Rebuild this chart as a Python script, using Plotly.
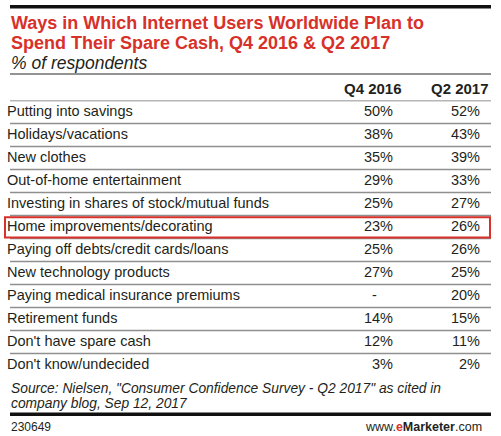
import plotly.graph_objects as go

# ---- data ----
categories = [
    "Putting into savings",
    "Holidays/vacations",
    "New clothes",
    "Out-of-home entertainment",
    "Investing in shares of stock/mutual funds",
    "Home improvements/decorating",
    "Paying off debts/credit cards/loans",
    "New technology products",
    "Paying medical insurance premiums",
    "Retirement funds",
    "Don't have spare cash",
    "Don't know/undecided",
]
q4_2016 = [50, 38, 35, 29, 25, 23, 25, 27, None, 14, 12, 3]
q2_2017 = [52, 43, 39, 33, 27, 26, 26, 25, 20, 15, 11, 2]
column_labels = ["Q4 2016", "Q2 2017"]
highlight = "Home improvements/decorating"

title_lines = [
    "Ways in Which Internet Users Worldwide Plan to",
    "Spend Their Spare Cash, Q4 2016 & Q2 2017",
]
subtitle = "% of respondents"
source_lines = [
    "Source: Nielsen, \"Consumer Confidence Survey - Q2 2017\" as cited in",
    "company blog, Sep 12, 2017",
]
chart_id = "230649"

# ---- styling ----
W, H = 501, 436
RED = "#d7312a"
TXT = "#231f20"
FONT = "Liberation Sans"
col_x = [390, 477]      # right edge of value columns (x-axis units = px)
head_x = [403, 490]     # right edge of header text
left, right = 10, 491
table_top, row_h = 100.5, 23.0
rule_y = [7, 414]       # thick black rules (page px)


def py(v):
    return 1 - v / H


def px(v):
    return v / W


def fmt(v):
    return "-\u2007\u2007" if v is None else f"{v}%"


n = len(categories)
fig = go.Figure()
fig.add_trace(go.Scatter(
    x=[left - 3] * n, y=categories, text=categories, mode="text",
    textposition="middle right", textfont=dict(family=FONT, size=14.5, color=TXT),
    hoverinfo="skip", showlegend=False, cliponaxis=False))
for cx, vals in zip(col_x, [q4_2016, q2_2017]):
    fig.add_trace(go.Scatter(
        x=[cx + 3] * n, y=categories, text=[fmt(v) for v in vals], mode="text",
        textposition="middle left", textfont=dict(family=FONT, size=14.5, color=TXT),
        hoverinfo="skip", showlegend=False, cliponaxis=False))

shapes = []
# row separators
for i in range(n - 1):
    shapes.append(dict(type="line", xref="x", yref="y", x0=left, x1=right,
                       y0=i + 0.5, y1=i + 0.5, line=dict(color="#8f8f8f", width=1.3)))
# header underline
shapes.append(dict(type="line", xref="x", yref="y", x0=left, x1=right,
                   y0=-0.5, y1=-0.5, line=dict(color="#6f6f6f", width=1.5)))
# subtitle underline
shapes.append(dict(type="line", xref="paper", yref="paper", x0=px(left), x1=px(right),
                   y0=py(74), y1=py(74), line=dict(color="#6f6f6f", width=1.5)))
# thick rules as paper shapes
for yy in rule_y:
    shapes.append(dict(type="line", xref="paper", yref="paper", x0=px(left), x1=px(right),
                       y0=py(yy), y1=py(yy), line=dict(color="#111111", width=3)))
# highlight box
hi = categories.index(highlight)
shapes.append(dict(type="rect", xref="x", yref="y", x0=5, x1=490,
                   y0=hi - 0.42, y1=hi + 0.46, line=dict(color=RED, width=2),
                   fillcolor="rgba(0,0,0,0)"))

ann = []
# thick rules also as filled annotation boxes (drawn on the top layer)
for yy in rule_y:
    ann.append(dict(text=" ", x=px(left), xref="paper", xanchor="left",
                    y=py(yy), yref="paper", yanchor="middle", showarrow=False,
                    width=right - left, height=3, bgcolor="#111111", borderpad=0,
                    borderwidth=0, font=dict(size=1)))
for line, yy in zip(title_lines, (23, 43)):
    ann.append(dict(text=f"<b>{line}</b>", x=px(left - 1), xref="paper", xanchor="left",
                    y=py(yy), yref="paper", yanchor="middle", showarrow=False,
                    font=dict(family=FONT, size=18, color=RED)))
ann.append(dict(text=f"<i>{subtitle}</i>", x=px(left - 1), xref="paper", xanchor="left",
                y=py(62.5), yref="paper", yanchor="middle", showarrow=False,
                font=dict(family=FONT, size=17.5, color=TXT)))
for lab, hx in zip(column_labels, head_x):
    ann.append(dict(text=f"<b>{lab}</b>", x=px(hx + 1), xref="paper", xanchor="right",
                    y=py(88.5), yref="paper", yanchor="middle", showarrow=False,
                    font=dict(family=FONT, size=15, color=TXT)))
for line, yy in zip(source_lines, (388.5, 403)):
    ann.append(dict(text=f"<i>{line}</i>", x=px(left - 1), xref="paper", xanchor="left",
                    y=py(yy), yref="paper", yanchor="middle", showarrow=False,
                    font=dict(family=FONT, size=13.8, color=TXT)))
ann.append(dict(text=chart_id, x=px(left - 1), xref="paper", xanchor="left",
                y=py(426.5), yref="paper", yanchor="middle", showarrow=False,
                font=dict(family=FONT, size=12, color=TXT)))
ann.append(dict(text=f"www.<span style='color:{RED}'><b>e</b></span><b>Marketer</b>.com",
                x=px(484), xref="paper", xanchor="right",
                y=py(426.5), yref="paper", yanchor="middle", showarrow=False,
                font=dict(family=FONT, size=12.5, color=TXT)))

fig.update_layout(
    width=W, height=H, margin=dict(l=0, r=0, t=0, b=0),
    paper_bgcolor="white", plot_bgcolor="rgba(0,0,0,0)",
    xaxis=dict(range=[0, W], domain=[0, 1], visible=False, fixedrange=True),
    yaxis=dict(type="category", categoryarray=categories, categoryorder="array",
               range=[n - 0.5, -0.5], domain=[py(table_top + n * row_h), py(table_top)],
               visible=False, fixedrange=True),
    shapes=shapes, annotations=ann,
)

fig.write_html("out.html", config={"displayModeBar": False},
               post_script="document.body.style.margin='0';")
